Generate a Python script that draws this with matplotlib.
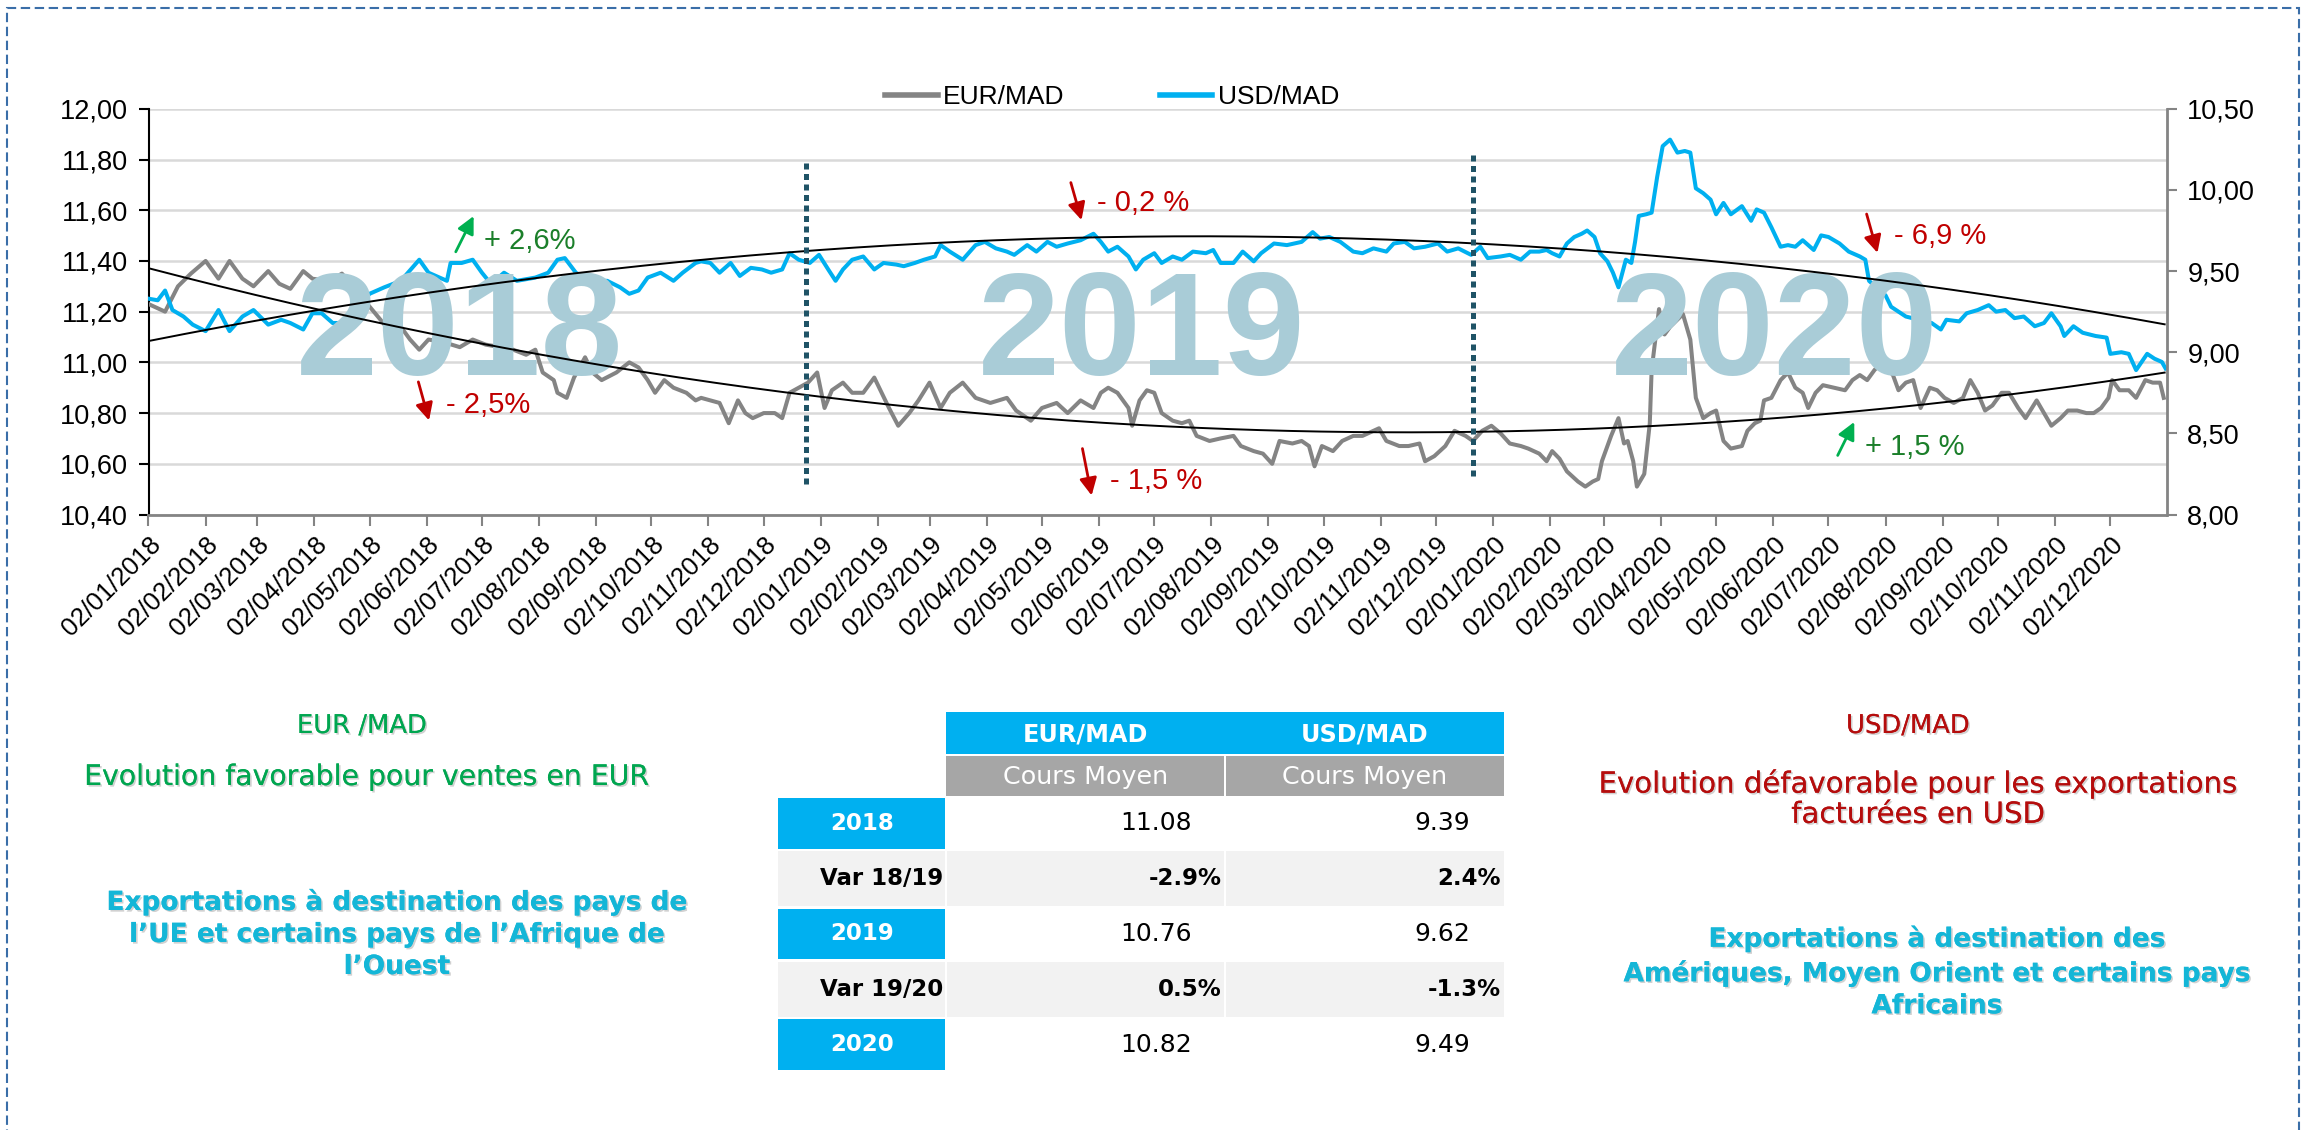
import os
import numpy as np
import pandas as pd
import matplotlib
matplotlib.use("Agg")
import matplotlib.pyplot as plt
import matplotlib.dates as mdates
from matplotlib import font_manager as fm
from matplotlib.patches import Rectangle
from matplotlib.ticker import FuncFormatter, MultipleLocator
import matplotlib.patheffects as pe

# ---------------------------------------------------------------- data
START = pd.Timestamp("2018-01-02")   # day 0 of the day offsets below

eur_days = [0, 9, 16, 23, 31, 38, 44, 51, 57, 65, 71, 77, 84, 89, 98, 105, 113, 120, 128, 137,
            142, 147, 152, 160, 169, 176, 183, 191, 198, 205, 210, 214, 220, 222, 227, 231, 237,
            241, 246, 254, 261, 266, 271, 275, 280, 285, 292, 297,
            300, 305, 310, 315, 320, 324, 328, 334, 340, 344, 348, 353, 358, 363, 367, 371, 377,
            382, 388, 394, 398, 402, 407, 413, 418, 424, 430, 435, 442, 449, 457, 466, 471, 479,
            485, 493, 499, 506, 513, 517, 521, 526, 532, 534, 538, 542, 546, 550, 556, 561, 565,
            569, 576, 582, 589, 593, 600, 605, 610, 614, 621, 626, 630, 633, 637, 643, 648, 654,
            659, 668, 672, 679, 684, 690, 693, 698, 704, 709, 715, 719, 724, 729,
            734, 739, 745, 749, 755, 759, 762, 766, 770, 776, 780, 784, 787, 789, 794, 798, 801,
            803, 806, 808, 812, 815, 816, 820, 823, 826, 833, 837, 840, 844, 848, 851, 855, 859,
            865, 868, 872, 875, 877, 881, 886, 890, 894, 898, 901, 905, 909, 915, 921, 925, 929,
            933, 937, 941, 947, 950, 954, 958, 962, 967, 971, 975, 980, 985, 989, 993, 997, 1001,
            1006, 1010, 1015, 1019, 1025, 1029, 1033, 1038, 1042, 1047, 1052, 1056, 1060, 1064,
            1066, 1070, 1075, 1079, 1084, 1088, 1092, 1094]
eur_vals = [11.23, 11.20, 11.30, 11.35, 11.40, 11.33, 11.40, 11.33, 11.30, 11.36, 11.31, 11.29,
            11.36, 11.33, 11.32, 11.35, 11.28, 11.22, 11.15, 11.14, 11.09, 11.05, 11.09, 11.08,
            11.06, 11.09, 11.07, 11.06, 11.05, 11.03, 11.05, 10.96, 10.93, 10.88, 10.86, 10.94,
            11.02, 10.96, 10.93, 10.96, 11.00, 10.98, 10.93, 10.88, 10.93, 10.90, 10.88, 10.85,
            10.86, 10.85, 10.84, 10.76, 10.85, 10.80, 10.78, 10.80, 10.80, 10.78, 10.88, 10.90,
            10.92, 10.96, 10.82, 10.89, 10.92, 10.88, 10.88, 10.94, 10.88, 10.82, 10.75, 10.80,
            10.85, 10.92, 10.82, 10.88, 10.92, 10.86, 10.84, 10.86, 10.81, 10.77, 10.82, 10.84,
            10.80, 10.85, 10.82, 10.88, 10.90, 10.88, 10.82, 10.75, 10.85, 10.89, 10.88, 10.80,
            10.77, 10.76, 10.77, 10.71, 10.69, 10.70, 10.71, 10.67, 10.65, 10.64, 10.60, 10.69,
            10.68, 10.69, 10.67, 10.59, 10.67, 10.65, 10.69, 10.71, 10.71, 10.74, 10.69, 10.67,
            10.67, 10.68, 10.61, 10.63, 10.67, 10.73, 10.71, 10.69, 10.73, 10.75,
            10.72, 10.68, 10.67, 10.66, 10.64, 10.61, 10.65, 10.62, 10.57, 10.53, 10.51, 10.53,
            10.54, 10.61, 10.71, 10.78, 10.68, 10.69, 10.61, 10.51, 10.56, 10.76, 10.97, 11.21,
            11.11, 11.14, 11.19, 11.09, 10.86, 10.78, 10.80, 10.81, 10.69, 10.66, 10.67, 10.73,
            10.76, 10.77, 10.85, 10.86, 10.93, 10.96, 10.90, 10.88, 10.82, 10.88, 10.91, 10.90,
            10.89, 10.93, 10.95, 10.93, 10.97, 11.00, 10.95, 10.89, 10.92, 10.93, 10.82, 10.90,
            10.89, 10.86, 10.84, 10.86, 10.93, 10.88, 10.81, 10.83, 10.88, 10.88, 10.82, 10.78,
            10.85, 10.80, 10.75, 10.78, 10.81, 10.81, 10.80, 10.80, 10.82, 10.86, 10.93, 10.89,
            10.89, 10.86, 10.93, 10.92, 10.92, 10.86]

usd_days = [0, 5, 9, 13, 19, 24, 31, 38, 44, 51, 57, 65, 72, 77, 84, 89, 94, 100, 105, 111, 120,
            128, 137, 147, 152, 162, 164, 170, 176, 181, 186, 193, 200, 210, 217, 222, 226, 232,
            239, 249, 256, 261, 266, 271, 278, 285, 290, 297,
            300, 305, 310, 316, 321, 327, 333, 338, 344, 348, 353, 359, 364, 369, 373, 377, 382,
            388, 394, 399, 406, 410, 416, 421, 427, 430, 435, 442, 449, 454, 460, 466, 470, 477,
            482, 488, 493, 499, 506, 513, 517, 521, 526, 532, 536, 540, 546, 550, 556, 561, 567,
            574, 578, 582, 589, 594, 600, 604, 611, 618, 626, 632, 636, 641, 647, 654, 659, 665,
            672, 676, 682, 687, 693, 700, 705, 711, 718, 723, 727,
            734, 739, 745, 750, 755, 759, 762, 766, 770, 774, 778, 781, 785, 788, 792, 795, 798,
            802, 805, 807, 809, 813, 816, 819, 822, 826, 830, 834, 837, 840, 844, 848, 851, 855,
            859, 865, 870, 873, 877, 881, 886, 890, 894, 898, 904, 908, 912, 918, 923, 929, 932,
            934, 943, 946, 954, 961, 968, 973, 976, 983, 987, 993, 999, 1003, 1008, 1013, 1018,
            1024, 1029, 1033, 1038, 1040, 1045, 1050, 1057, 1063, 1065, 1071, 1075, 1079, 1085,
            1089, 1093, 1095]
usd_vals = [9.33, 9.32, 9.38, 9.26, 9.22, 9.17, 9.13, 9.26, 9.13, 9.22, 9.26, 9.17, 9.20, 9.18,
            9.14, 9.24, 9.24, 9.18, 9.18, 9.24, 9.36, 9.40, 9.44, 9.57, 9.49, 9.44, 9.55, 9.55,
            9.57, 9.49, 9.42, 9.49, 9.44, 9.46, 9.49, 9.57, 9.58, 9.49, 9.44, 9.44, 9.40, 9.36,
            9.38, 9.46, 9.49, 9.44, 9.49, 9.55,
            9.56, 9.55, 9.49, 9.55, 9.47, 9.52, 9.51, 9.49, 9.51, 9.61, 9.57, 9.55, 9.60, 9.51,
            9.44, 9.51, 9.57, 9.59, 9.51, 9.55, 9.54, 9.53, 9.55, 9.57, 9.59, 9.66, 9.62, 9.57,
            9.66, 9.68, 9.64, 9.62, 9.60, 9.66, 9.62, 9.68, 9.65, 9.67, 9.69, 9.73, 9.68, 9.62,
            9.65, 9.59, 9.51, 9.57, 9.61, 9.55, 9.59, 9.57, 9.62, 9.61, 9.63, 9.55, 9.55, 9.62,
            9.56, 9.61, 9.67, 9.66, 9.68, 9.74, 9.70, 9.71, 9.68, 9.62, 9.61, 9.64, 9.62, 9.67,
            9.68, 9.64, 9.65, 9.67, 9.62, 9.64, 9.60, 9.65, 9.58,
            9.59, 9.60, 9.57, 9.62, 9.62, 9.63, 9.61, 9.59, 9.67, 9.71, 9.73, 9.75, 9.71, 9.61,
            9.56, 9.49, 9.40, 9.57, 9.55, 9.68, 9.84, 9.85, 9.86, 10.08, 10.27, 10.31, 10.23,
            10.24, 10.23, 10.01, 9.98, 9.94, 9.85, 9.92, 9.85, 9.90, 9.81, 9.88, 9.86, 9.77, 9.65,
            9.66, 9.65, 9.69, 9.63, 9.72, 9.71, 9.67, 9.62, 9.59, 9.57, 9.44, 9.35, 9.28, 9.22,
            9.20, 9.18, 9.14, 9.20, 9.19, 9.24, 9.26, 9.29, 9.25, 9.26, 9.21, 9.22, 9.16, 9.18,
            9.24, 9.16, 9.10, 9.16, 9.12, 9.10, 9.09, 8.99, 9.00, 8.99, 8.89, 8.99, 8.96, 8.94,
            8.90]

year_labels = ["2018", "2019", "2020"]
year_breaks = ["2018-12-25", "2019-12-22"]
annot_texts = ["+ 2,6%", "- 2,5%", "- 0,2 %", "- 1,5 %", "- 6,9 %", "+ 1,5 %"]

table_rows = ["2018", "Var 18/19", "2019", "Var 19/20", "2020"]
table_cols = ["EUR/MAD", "USD/MAD"]
table_sub = "Cours Moyen"
eur_mean = [11.08, 10.76, 10.82]
usd_mean = [9.39, 9.62, 9.49]
eur_var = [-2.9, 0.5]
usd_var = [2.4, -1.3]

# ---------------------------------------------------------------- fonts
def sans(size, bold=False):
    return fm.FontProperties(family=["Liberation Sans", "DejaVu Sans"], size=size,
                             weight="bold" if bold else "normal")


def tah(size, bold=False):
    return fm.FontProperties(family=["DejaVu Sans"], size=size,
                             weight="bold" if bold else "normal")

# ---------------------------------------------------------------- figure
W, H = 2305, 1130
fig = plt.figure(figsize=(W / 100, H / 100), dpi=100)
fig.patch.set_facecolor("white")


def fx(x):
    return x / W


def fy(y):
    return 1 - y / H


L, R, T, B = 148.5, 2166.5, 108.8, 514.5
ax = fig.add_axes([fx(L), fy(B), (R - L) / W, (B - T) / H])
ax2 = ax.twinx()

GRAY = "#848484"
BLUE = "#00B0F0"

eur_dates = START + pd.to_timedelta(eur_days, unit="D")
usd_dates = START + pd.to_timedelta(usd_days, unit="D")

ax.set_xlim(START, START + pd.Timedelta(days=1095.5))
ax.set_ylim(10.4, 12.0)
ax2.set_ylim(8.0, 10.5)

ax.yaxis.set_major_locator(MultipleLocator(0.2))
ax2.yaxis.set_major_locator(MultipleLocator(0.5))
ax.xaxis.set_major_locator(mdates.MonthLocator(bymonthday=2))
ax.xaxis.set_major_formatter(mdates.DateFormatter("%d/%m/%Y"))
comma = FuncFormatter(lambda v, p: f"{v:.2f}".replace(".", ","))
ax.yaxis.set_major_formatter(comma)
ax2.yaxis.set_major_formatter(comma)

ax.grid(axis="y", color="#D9D9D9", lw=1.8)
ax.set_axisbelow(True)

for s in ["top", "right"]:
    ax.spines[s].set_visible(False)
ax.spines["left"].set_color("black")
ax.spines["left"].set_linewidth(1.5)
ax.spines["bottom"].set_color(GRAY)
ax.spines["bottom"].set_linewidth(2)
for s in ["top", "left", "bottom"]:
    ax2.spines[s].set_visible(False)
ax2.spines["right"].set_color(GRAY)
ax2.spines["right"].set_linewidth(2)

ax.tick_params(axis="y", direction="out", length=7, width=1.5, color="black", pad=8)
ax.tick_params(axis="x", direction="out", length=8, width=1.5, color=GRAY, pad=5)
ax2.tick_params(axis="y", direction="out", length=7, width=1.5, color=GRAY, pad=8)

for lab in ax.get_xticklabels():
    lab.set_fontproperties(sans(18.5))
    lab.set_rotation(45)
    lab.set_ha("right")
    lab.set_va("top")
    lab.set_rotation_mode("anchor")
for lab in ax.get_yticklabels() + ax2.get_yticklabels():
    lab.set_fontproperties(sans(19.5))

# data lines
l_eur, = ax.plot(eur_dates, eur_vals, color=GRAY, lw=2.9, solid_joinstyle="round", zorder=3)
l_usd, = ax2.plot(usd_dates, usd_vals, color=BLUE, lw=2.9, solid_joinstyle="round", zorder=2)


def dn(day):
    return mdates.date2num(START + pd.Timedelta(days=day))

# year labels (left-axis units), above data lines
for lab, d in zip(year_labels, [169, 539, 883]):
    ax2.text(dn(d), 10.95, lab, transform=ax.transData, ha="center", va="baseline",
             fontproperties=sans(106, True), color="#A9CCD7", zorder=3)

# polynomial trend lines (order 2), fitted on the series
tt = np.linspace(0, 1094.5, 400)
tdates = [dn(t) for t in tt]
pe_ = np.polyfit(eur_days, eur_vals, 2)
pu_ = np.polyfit(usd_days, usd_vals, 2)
ax2.plot(tdates, np.polyval(pe_, tt), transform=ax.transData, color="black", lw=1.4, zorder=4)
ax2.plot(tdates, np.polyval(pu_, tt), color="black", lw=1.4, zorder=4)

# year separators
for d, (y0, y1) in zip(year_breaks, [(10.52, 11.79), (10.55, 11.82)]):
    x = mdates.date2num(pd.Timestamp(d))
    ax2.plot([x, x], [y0, y1], transform=ax.transData, color="#1F5366", lw=3.6,
             ls=(0, (1.2, 0.9)), dash_capstyle="butt", zorder=4)

# arrows + percentages (left-axis units)
RED = "#C00000"
GREEN_A = "#00B050"
GREEN_T = "#1B7F2A"
arrows = [((166.8, 11.436), (176.5, 11.577), GREEN_A, (182, 11.48), GREEN_T),
          ((146.5, 10.923), (152.3, 10.771), RED, (161.5, 10.830), RED),
          ((500.7, 11.709), (506.5, 11.561), RED, (515, 11.627), RED),
          ((507.0, 10.660), (512.0, 10.475), RED, (522, 10.534), RED),
          ((932.7, 11.585), (938.6, 11.432), RED, (947.8, 11.500), RED),
          ((917.0, 10.633), (926.0, 10.765), GREEN_A, (932, 10.666), GREEN_T)]
for txt, (tail, head, ac, tpos, tc) in zip(annot_texts, arrows):
    ax2.annotate("", xy=(dn(head[0]), head[1]), xytext=(dn(tail[0]), tail[1]),
                 xycoords=ax.transData, textcoords=ax.transData,
                 arrowprops=dict(arrowstyle="-|>", color=ac, lw=2.0, mutation_scale=26,
                                 shrinkA=0, shrinkB=0), zorder=5)
    ax2.text(dn(tpos[0]), tpos[1], txt, transform=ax.transData, ha="left", va="center",
             fontproperties=sans(21), color=tc, zorder=5)

ax2.set_ylim(8.0, 10.5)
ax.set_ylim(10.4, 12.0)

# legend
leg = ax2.legend([l_eur, l_usd], table_cols, loc="center",
                 bbox_to_anchor=(fx(1112), fy(97)), bbox_transform=fig.transFigure,
                 ncol=2, frameon=False, prop=sans(19), handlelength=2.0,
                 handletextpad=0.2, columnspacing=3.6)
for h in leg.get_lines():
    h.set_linewidth(4)

# ---------------------------------------------------------------- table
CYAN = "#00B0F0"


def rect(x0, y0, x1, y1, color):
    fig.add_artist(Rectangle((fx(x0), fy(y1)), (x1 - x0) / W, (y1 - y0) / H,
                             transform=fig.transFigure, facecolor=color, edgecolor="none"))


def ftext(x, y, s, fp, color, ha="center", va="center", **kw):
    fig.text(fx(x), fy(y), s, fontproperties=fp, color=color, ha=ha, va=va, **kw)


cx = [778, 946, 1225, 1504]
rect(cx[1], 712, cx[3], 754, CYAN)
rect(cx[1], 756, cx[2] - 1, 796, "#A6A6A6")
rect(cx[2] + 1, 756, cx[3], 796, "#A6A6A6")
for j, name in enumerate(table_cols):
    xc = (cx[1 + j] + cx[2 + j]) / 2
    ftext(xc, 734, name, tah(17.2, True), "white")
    ftext(xc, 777, table_sub, tah(18.3), "white")

row_y = [(798, 849), (851, 906), (909, 959), (962, 1017), (1019, 1070)]
mi = vi = 0
for i, (lab, (y0, y1)) in enumerate(zip(table_rows, row_y)):
    yc = (y0 + y1) / 2
    if i % 2 == 0:
        rect(cx[0], y0, cx[1] - 1, y1, CYAN)
        ftext((cx[0] + cx[1]) / 2, yc, lab, tah(16.5, True), "white")
        ftext(1192, yc, f"{eur_mean[mi]:.2f}", tah(18), "black", ha="right")
        ftext(1470, yc, f"{usd_mean[mi]:.2f}", tah(18), "black", ha="right")
        mi += 1
    else:
        rect(cx[0], y0, cx[1] - 1, y1, "#F2F2F2")
        rect(cx[1] + 1, y0, cx[2] - 1, y1, "#F2F2F2")
        rect(cx[2] + 1, y0, cx[3], y1, "#F2F2F2")
        ftext(943, yc, lab, tah(16.5, True), "black", ha="right")
        ftext(1222, yc, f"{eur_var[vi]:.1f}%", tah(16.5, True), "black", ha="right")
        ftext(1501, yc, f"{usd_var[vi]:.1f}%", tah(16.5, True), "black", ha="right")
        vi += 1

# ---------------------------------------------------------------- side texts
shadow = [pe.withSimplePatchShadow(offset=(1.2, -1.2), shadow_rgbFace="#999999", alpha=0.45),
          pe.Normal()]
G_TXT = "#00A650"
R_TXT = "#B50D0D"
C_TXT = "#14B6D7"
ftext(362, 726, "EUR /MAD", tah(18.6), G_TXT, path_effects=shadow)
ftext(367, 777, "Evolution favorable pour ventes en EUR", tah(20.4), G_TXT, path_effects=shadow)
ftext(397, 934, "Exportations à destination des pays de\nl’UE et certains pays de l’Afrique de\nl’Ouest",
      tah(19, True), C_TXT, linespacing=1.3, path_effects=shadow)

ftext(1908, 726, "USD/MAD", tah(18.6), R_TXT, path_effects=shadow)
ftext(1918, 799, "Evolution défavorable pour les exportations\nfacturées en USD",
      tah(21), R_TXT, linespacing=1.1, path_effects=shadow)
ftext(1937, 972, "Exportations à destination des\nAmériques, Moyen Orient et certains pays\nAfricains",
      tah(19, True), C_TXT, linespacing=1.3, path_effects=shadow)

# dashed frame
fig.add_artist(Rectangle((fx(7), -0.05), (2299 - 7) / W, (1.05 - 8 / H),
                         transform=fig.transFigure, fill=False, edgecolor="#3A6EA8",
                         lw=1.5, ls=(0, (4.5, 2.2))))

fig.savefig("out.png", dpi=100, facecolor="white")
